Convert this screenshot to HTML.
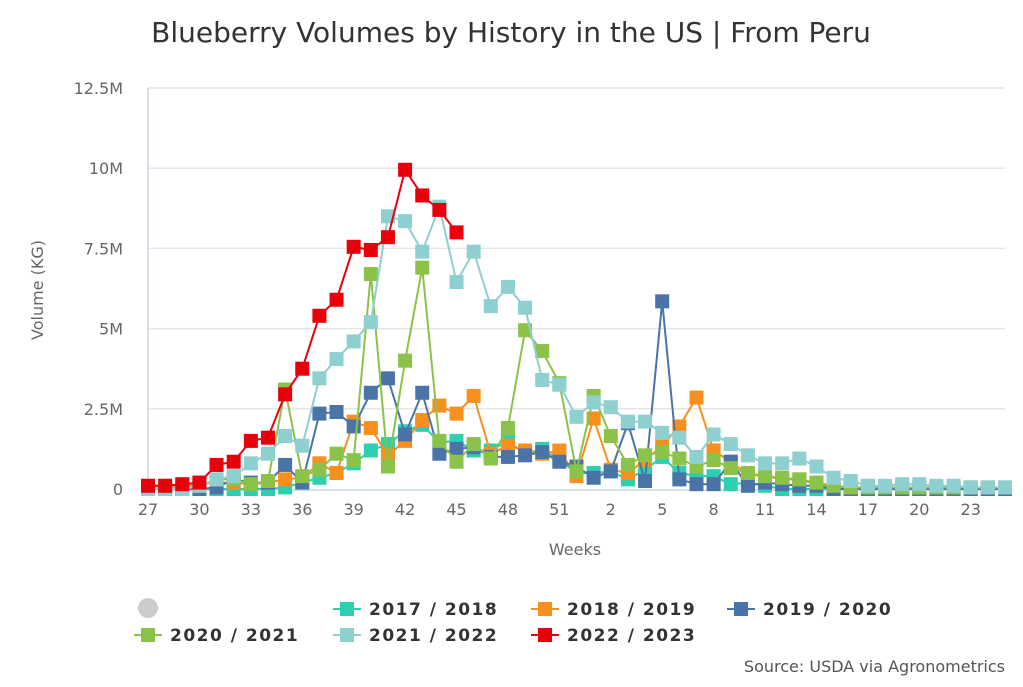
<!DOCTYPE html>
<html><head><meta charset="utf-8"><style>
body{margin:0;background:#fff;font-family:"Liberation Sans","DejaVu Sans",sans-serif}
svg text{font-family:"DejaVu Sans","Liberation Sans",sans-serif}
</style></head><body>
<svg id="c" width="1023" height="682" xmlns="http://www.w3.org/2000/svg">
<text x="511" y="42" text-anchor="middle" font-size="28" fill="#333">Blueberry Volumes by History in the US | From Peru</text>
<g id="grid"></g><g id="axes"></g><g id="series"></g><g id="legend"></g>
<text transform="translate(43,290) rotate(-90)" text-anchor="middle" font-size="16" fill="#666">Volume (KG)</text>
<text x="575" y="555" text-anchor="middle" font-size="16" fill="#666">Weeks</text>
<text x="1005" y="672" text-anchor="end" font-size="16" fill="#555">Source: USDA via Agronometrics</text>
</svg>
<script>
const weeks=[27,28,29,30,31,32,33,34,35,36,37,38,39,40,41,42,43,44,45,46,47,48,49,50,51,52,1,2,3,4,5,6,7,8,9,10,11,12,13,14,15,16,17,18,19,20,21,22,23,24,25];
const yTicks=[0,2.5,5,7.5,10,12.5];
const yTickLabels=["0","2.5M","5M","7.5M","10M","12.5M"];
const seriesNames=["2017 / 2018","2018 / 2019","2019 / 2020","2020 / 2021","2021 / 2022","2022 / 2023"];
const seriesColors=["#2ecfb0","#f7901e","#4a74a8","#8bc34a","#8ecfd0","#e8000b"];
const s2017=[0,0,0,0,0,0,0,0,0.05,0.2,0.35,0.5,0.8,1.2,1.4,1.8,2.0,1.45,1.5,1.2,1.2,1.5,1.1,1.25,0.9,0.5,0.5,0.55,0.3,0.6,1.0,0.5,0.4,0.4,0.15,0.2,0.1,0,0,0,0,0,0,0,0,0,0,0,0,0,0];
const s2018=[0.1,0.1,0.1,0.15,0.2,0.2,0.15,0.2,0.3,0.35,0.8,0.5,2.1,1.9,1.05,1.5,2.15,2.6,2.35,2.9,1.1,1.35,1.2,1.1,1.2,0.4,2.2,0.6,0.5,0.9,1.35,1.95,2.85,1.2,0.85,0.45,0.4,0.3,0.3,0.15,0.05,0,0,0,0,0,0,0,0.05,0,0];
const s2019=[0,0,0,0,0.05,0.3,0.2,0.2,0.75,0.2,2.35,2.4,1.95,3.0,3.45,1.7,3.0,1.1,1.25,1.3,1.0,1.0,1.05,1.15,0.85,0.7,0.35,0.55,2.05,0.25,5.85,0.3,0.15,0.15,0.85,0.1,0.2,0.15,0.1,0.1,0,0,0,0,0,0,0,0,0,0,0];
const s2020=[0,0.05,0.05,0.1,0.3,0.3,0.15,0.25,3.1,0.4,0.6,1.1,0.9,6.7,0.7,4.0,6.9,1.5,0.85,1.4,0.95,1.9,4.95,4.3,3.3,0.55,2.9,1.65,0.75,1.05,1.15,0.95,0.7,0.9,0.65,0.5,0.4,0.35,0.3,0.2,0.1,0.05,0.05,0.05,0.05,0.05,0.05,0.05,0.05,0.05,0.05];
const s2021=[0,0,0,0.1,0.3,0.4,0.8,1.1,1.65,1.35,3.45,4.05,4.6,5.2,8.5,8.35,7.4,8.8,6.45,7.4,5.7,6.3,5.65,3.4,3.25,2.25,2.7,2.55,2.1,2.1,1.75,1.6,1.0,1.7,1.4,1.05,0.8,0.8,0.95,0.7,0.35,0.25,0.1,0.1,0.15,0.15,0.1,0.1,0.05,0.05,0.05];
const s2022=[0.1,0.1,0.15,0.2,0.75,0.85,1.5,1.6,2.95,3.75,5.4,5.9,7.55,7.45,7.85,9.95,9.15,8.7,8.0];
const allSeries=[s2017,s2018,s2019,s2020,s2021,s2022];
const X0=148,X1=1005,Y0=489,Y1=88,NS="http://www.w3.org/2000/svg";
const xs=i=>X0+(X1-X0)*i/(weeks.length-1);
const ys=v=>Y0-(Y0-Y1)*v/12.5;
function mk(t,a,p){const e=document.createElementNS(NS,t);for(const k in a)e.setAttribute(k,a[k]);p.appendChild(e);return e;}
const grid=document.getElementById('grid'),axes=document.getElementById('axes'),ser=document.getElementById('series'),leg=document.getElementById('legend');
yTicks.forEach((v,i)=>{
 if(i>0){const l=mk('line',{x1:X0,x2:X1,y1:ys(v),y2:ys(v),stroke:'#e6e6e6','stroke-width':1.5},grid);
 
 }
 const t=mk('text',{x:123,y:ys(v)+6,'text-anchor':'end','font-size':16,fill:'#666'},axes);t.textContent=yTickLabels[i];
 
 
});
const ax=mk('line',{x1:X0,x2:X1+8,y1:Y0+1,y2:Y0+1,stroke:'#ccd6eb','stroke-width':1.5},axes);


const ay=mk('line',{x1:X0,x2:X0,y1:Y1,y2:Y0,stroke:'#ccd6eb','stroke-width':1.5},axes);


weeks.forEach((w,i)=>{if(i%3===0){const t=mk('text',{x:xs(i),y:Y0+26,'text-anchor':'middle','font-size':16,fill:'#666'},axes);t.textContent=w;
 
 }});
allSeries.forEach((d,si)=>{
 const g=mk('g',{},ser);
 
 
 mk('polyline',{points:d.map((v,i)=>xs(i)+','+ys(v)).join(' '),fill:'none',stroke:seriesColors[si],'stroke-width':2},g);
 d.forEach((v,i)=>{const r=mk('rect',{x:xs(i)-7,y:ys(v)-7,width:14,height:14,fill:seriesColors[si]},g);
 
 });
});
const c0=mk('circle',{cx:148,cy:608,r:10,fill:'#ccc'},leg);


const lp=[[347,609],[545,609],[741,609],[148,635],[347,635],[545,635]];
seriesNames.forEach((n,i)=>{
 const g=mk('g',{},leg);
 
 
 const [x,y]=lp[i];
 mk('line',{x1:x-14,x2:x+14,y1:y,y2:y,stroke:seriesColors[i],'stroke-width':2},g);
 mk('rect',{x:x-7,y:y-7,width:14,height:14,fill:seriesColors[i]},g);
 const t=mk('text',{x:x+22,y:y+6,'font-size':17,'font-weight':'bold',fill:'#333','letter-spacing':'1.5'},g);t.textContent=n;
});
</script>
</body></html>
